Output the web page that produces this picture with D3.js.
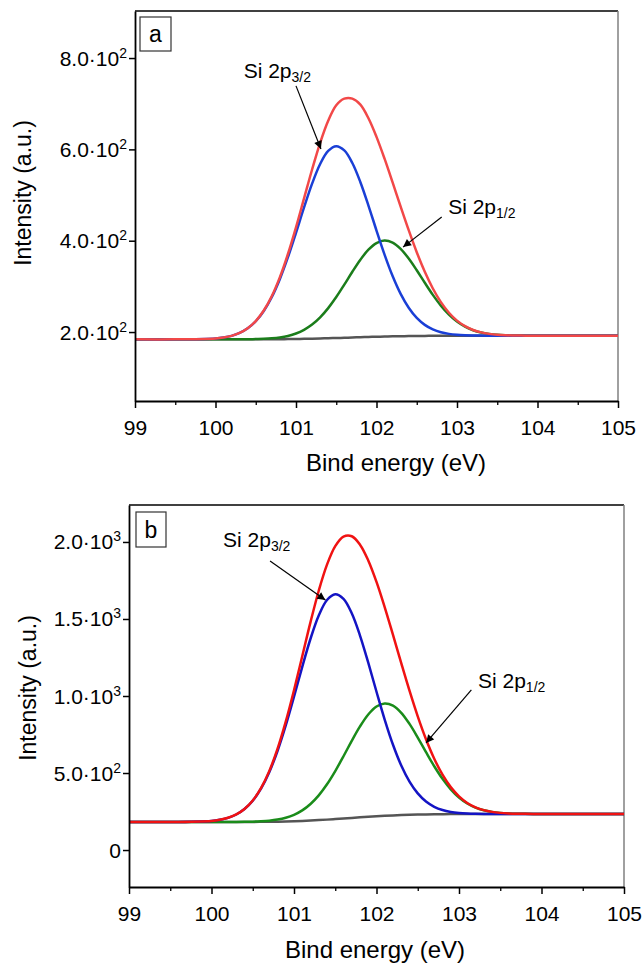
<!DOCTYPE html>
<html>
<head>
<meta charset="utf-8">
<script src="https://cdn.jsdelivr.net/npm/d3@7"></script>
<style>
  body { margin: 0; background: #fff; }
  svg { display: block; }
  text { font-family: "Liberation Sans", Arial, Helvetica, sans-serif; fill: #000; }
</style>
</head>
<body>
<svg id="chart" width="642" height="964"></svg>
<script>
// Binding energy grid (eV)
const energy = [99.0, 99.5,
  100.0, 100.1, 100.2, 100.3, 100.4, 100.5, 100.6, 100.7, 100.8, 100.9,
  101.0, 101.1, 101.2, 101.3, 101.4, 101.5, 101.6, 101.7, 101.8, 101.9,
  102.0, 102.1, 102.2, 102.3, 102.4, 102.5, 102.6, 102.7, 102.8, 102.9,
  103.0, 103.1, 103.2, 103.3, 103.4, 103.5, 103.6, 103.7, 103.8, 103.9,
  104.0, 104.5, 105.0];

// Panel a: background, Si 2p3/2, Si 2p1/2 components and envelope
const backgroundA = [184, 184,
  184, 184, 184, 184, 184, 184.1, 184.1, 184.2, 184.3, 184.5,
  184.8, 185.1, 185.4, 185.9, 186.4, 186.9, 187.5, 188.1, 188.6, 189.2,
  189.7, 190.2, 190.6, 190.9, 191.2, 191.4, 191.6, 191.7, 191.8, 191.9,
  191.9, 192, 192, 192, 192, 192, 192, 192, 192, 192,
  192, 192, 192];
const p32A = [184, 184,
  186.1, 188.1, 191.7, 198.0, 208.1, 223.6, 246.1, 276.8, 316.3, 363.9,
  417.4, 472.9, 524.9, 568.0, 596.6, 606.9, 597.7, 570.2, 528.1, 477.0,
  422.3, 369.6, 322.6, 283.5, 253.2, 230.9, 215.7, 205.7, 199.5, 196.0,
  194.0, 193.0, 192.5, 192.2, 192.1, 192, 192, 192, 192, 192,
  192, 192, 192];
const p12A = [184, 184,
  184, 184, 184.0, 184.1, 184.2, 184.6, 185.1, 186.2, 188.2, 191.5,
  196.8, 204.9, 216.4, 232.2, 252.4, 276.6, 303.8, 332.0, 358.4, 380.3,
  394.8, 400.2, 395.7, 382.0, 361.0, 335.3, 307.9, 281.4, 257.8, 238.2,
  222.9, 211.8, 204.0, 199.0, 195.9, 194.0, 193.0, 192.5, 192.2, 192.1,
  192, 192, 192];
const envelopeA = [184, 184,
  186.1, 188.1, 191.7, 198.1, 208.3, 224.1, 247.1, 278.8, 320.2, 370.9,
  429.4, 492.7, 555.9, 614.3, 662.6, 696.6, 711.0, 711.1, 697.9, 668.1,
  627.4, 579.6, 527.7, 474.6, 423.0, 374.8, 332.0, 295.4, 265.5, 242.3,
  225.0, 212.8, 204.5, 199.2, 196.0, 194.0, 193.0, 192.5, 192.2, 192.1,
  192, 192, 192];

// Panel b
const backgroundB = [182, 182,
  182.0, 182.0, 182.1, 182.2, 182.3, 182.5, 182.9, 183.4, 184.3, 185.4,
  187.0, 188.9, 191.4, 194.2, 197.4, 201.0, 204.7, 208.5, 212.2, 215.7,
  219.0, 222.0, 224.6, 226.8, 228.7, 230.2, 231.3, 232.2, 232.8, 233.3,
  233.5, 233.7, 233.8, 233.9, 234, 234, 234, 234, 234, 234,
  234, 234, 234];
const p32B = [182, 182,
  189.2, 196.2, 209.0, 230.8, 266.0, 319.9, 398.3, 505.2, 643.0, 809.0,
  995.7, 1189.3, 1371.7, 1522.5, 1623.2, 1661.0, 1630.5, 1536.8, 1392.5, 1216.1,
  1027.7, 845.6, 683.3, 548.6, 444.1, 367.6, 315.0, 280.8, 259.7, 247.5,
  240.7, 237.1, 235.4, 234.6, 234.3, 234.1, 234.0, 234, 234, 234,
  234, 234, 234];
const p12B = [182, 182,
  182.0, 182.0, 182.3, 182.5, 183.1, 184.2, 186.5, 190.5, 197.7, 209.7,
  228.8, 257.6, 299.1, 355.1, 426.8, 512.8, 609.0, 708.7, 802.3, 879.9,
  931.9, 952.0, 937.5, 891.0, 818.8, 730.4, 635.6, 544.0, 462.2, 394.2,
  341.2, 302.4, 275.6, 258.2, 247.4, 241.1, 237.6, 235.7, 234.8, 234.3,
  234.2, 234, 234];
const envelopeB = [182, 182,
  189.2, 196.2, 209.2, 231.1, 266.8, 321.6, 401.9, 512.3, 656.4, 833.3,
  1037.5, 1258.0, 1479.4, 1683.4, 1852.6, 1972.8, 2034.8, 2037.0, 1982.6, 1880.3,
  1740.6, 1575.6, 1396.2, 1212.8, 1034.2, 867.8, 719.3, 592.6, 489.1, 408.4,
  348.4, 305.8, 277.2, 258.9, 247.7, 241.2, 237.6, 235.7, 234.8, 234.3,
  234.2, 234, 234];

// Axis ticks
const xTicks = [99, 100, 101, 102, 103, 104, 105];
const xMinorTicks = [99.5, 100.5, 101.5, 102.5, 103.5, 104.5];
const yTicksA = [200, 400, 600, 800];
const yMantA = ["2.0", "4.0", "6.0", "8.0"];
const yExpA = ["2", "2", "2", "2"];
const yTicksB = [0, 500, 1000, 1500, 2000];
const yMantB = ["0", "5.0", "1.0", "1.5", "2.0"];
const yExpB = ["", "2", "3", "3", "3"];

const svg = d3.select("#chart");

const defs = svg.append("defs");
defs.append("marker")
  .attr("id", "arrowhead")
  .attr("viewBox", "0 0 10 10")
  .attr("refX", 10).attr("refY", 5)
  .attr("markerUnits", "userSpaceOnUse")
  .attr("markerWidth", 9).attr("markerHeight", 8)
  .attr("orient", "auto")
  .append("path").attr("d", "M0,0 L10,5 L0,10 z").attr("fill", "#000");

function drawPanel(cfg) {
  const g = svg.append("g");
  const x = d3.scaleLinear().domain([99, 105]).range([cfg.left, cfg.right]);
  const y = d3.scaleLinear().domain(cfg.yDomain).range([cfg.bottom, cfg.top]);

  // frame: top black, right grey
  g.append("line").attr("x1", cfg.left).attr("x2", cfg.right)
    .attr("y1", cfg.top).attr("y2", cfg.top)
    .attr("stroke", "#000").attr("stroke-width", 1.3);
  g.append("line").attr("x1", cfg.right).attr("x2", cfg.right)
    .attr("y1", cfg.top).attr("y2", cfg.bottom)
    .attr("stroke", "#808080").attr("stroke-width", 1.5);

  // curves
  const line = d3.line()
    .x((d, i) => x(energy[i]))
    .y(d => y(d))
    .curve(d3.curveCatmullRom.alpha(0.5));
  const series = [
    { values: cfg.background, color: "#555555" },
    { values: cfg.p12, color: cfg.colors.p12 },
    { values: cfg.p32, color: cfg.colors.p32 },
    { values: cfg.envelope, color: cfg.colors.envelope }
  ];
  g.selectAll("path.curve").data(series).enter().append("path")
    .attr("class", "curve")
    .attr("d", d => line(d.values))
    .attr("fill", "none")
    .attr("stroke", d => d.color)
    .attr("stroke-width", 2.5)
    .attr("stroke-linejoin", "round");

  // x axis
  const xAxis = g.append("g").attr("transform", `translate(0,${cfg.bottom})`)
    .call(d3.axisBottom(x).tickValues(xTicks).tickSize(7).tickSizeOuter(0).tickPadding(12)
      .tickFormat(d3.format("d")));
  xAxis.select(".domain").attr("stroke-width", 1.8);
  xAxis.selectAll(".tick line").attr("stroke-width", 1.5);
  xAxis.selectAll("text").attr("font-size", 21)
    .style("font-family", '"Liberation Sans", Arial, sans-serif');
  const xMinor = g.append("g").attr("transform", `translate(0,${cfg.bottom})`)
    .call(d3.axisBottom(x).tickValues(xMinorTicks).tickSize(4).tickFormat(""));
  xMinor.select(".domain").remove();
  xMinor.selectAll(".tick line").attr("stroke-width", 1.3);

  // y axis
  const yAxis = g.append("g").attr("transform", `translate(${cfg.left},0)`)
    .call(d3.axisLeft(y).tickValues(cfg.yTicks).tickSize(6).tickSizeOuter(0).tickFormat(""));
  yAxis.select(".domain").attr("stroke-width", 1.8);
  yAxis.selectAll(".tick line").attr("stroke-width", 1.5);

  cfg.yTicks.forEach((v, i) => {
    const t = g.append("text")
      .attr("x", cfg.left - 8)
      .attr("y", y(v) + 7.5)
      .attr("text-anchor", "end")
      .attr("font-size", 21);
    if (cfg.yExp[i]) {
      t.append("tspan").text(cfg.yMant[i] + "\u00B710");
      t.append("tspan").attr("font-size", 14).attr("dy", -8).text(cfg.yExp[i]);
    } else {
      t.text(cfg.yMant[i]);
    }
  });

  // axis titles
  g.append("text")
    .attr("transform", `translate(${cfg.yTitleX},${cfg.yTitleY}) rotate(-90)`)
    .attr("text-anchor", "middle").attr("font-size", 23)
    .text("Intensity (a.u.)");
  g.append("text")
    .attr("x", cfg.xTitleX).attr("y", cfg.xTitleY)
    .attr("text-anchor", "middle").attr("font-size", 24)
    .text("Bind energy (eV)");

  // panel letter box
  g.append("rect")
    .attr("x", cfg.left + cfg.box[0]).attr("y", cfg.top + cfg.box[1])
    .attr("width", cfg.box[2]).attr("height", cfg.box[3])
    .attr("fill", "#fff").attr("stroke", "#333").attr("stroke-width", 1.2);
  g.append("text")
    .attr("x", cfg.left + cfg.box[0] + cfg.box[2] / 2)
    .attr("y", cfg.top + cfg.box[1] + cfg.box[3] / 2 + 8)
    .attr("text-anchor", "middle").attr("font-size", 23)
    .text(cfg.letter);

  // peak annotations
  cfg.notes.forEach(n => {
    const t = g.append("text").attr("x", x(n.text[0])).attr("y", y(n.text[1])).attr("font-size", 21);
    t.append("tspan").text("Si 2p");
    t.append("tspan").attr("font-size", 14).attr("dy", 4).text(n.sub);
    g.append("line")
      .attr("x1", x(n.from[0])).attr("y1", y(n.from[1]))
      .attr("x2", x(n.to[0])).attr("y2", y(n.to[1]))
      .attr("stroke", "#000").attr("stroke-width", 1.2)
      .attr("marker-end", "url(#arrowhead)");
  });
}

drawPanel({
  left: 135, right: 618, top: 11, bottom: 401,
  yDomain: [49, 903],
  yTicks: yTicksA, yMant: yMantA, yExp: yExpA,
  background: backgroundA, p32: p32A, p12: p12A, envelope: envelopeA,
  colors: { p32: "#1a3fd6", p12: "#1b7d1b", envelope: "#f24848" },
  yTitleX: 31, yTitleY: 193, xTitleX: 396, xTitleY: 471,
  box: [5, 6, 31, 34], letter: "a",
  notes: [
    { text: [100.35, 756], sub: "3/2", from: [101.0, 739], to: [101.31, 601] },
    { text: [102.89, 458], sub: "1/2", from: [102.81, 452], to: [102.33, 386] }
  ]
});

drawPanel({
  left: 129, right: 624, top: 505, bottom: 887,
  yDomain: [-240, 2240],
  yTicks: yTicksB, yMant: yMantB, yExp: yExpB,
  background: backgroundB, p32: p32B, p12: p12B, envelope: envelopeB,
  colors: { p32: "#1414c4", p12: "#1a8c1a", envelope: "#f01212" },
  yTitleX: 36, yTitleY: 688, xTitleX: 375, xTitleY: 958,
  box: [7, 7, 30, 35], letter: "b",
  notes: [
    { text: [100.14, 1968], sub: "3/2", from: [100.71, 1877], to: [101.38, 1623] },
    { text: [103.23, 1052], sub: "1/2", from: [103.15, 1040], to: [102.6, 695] }
  ]
});
</script>
</body>
</html>
